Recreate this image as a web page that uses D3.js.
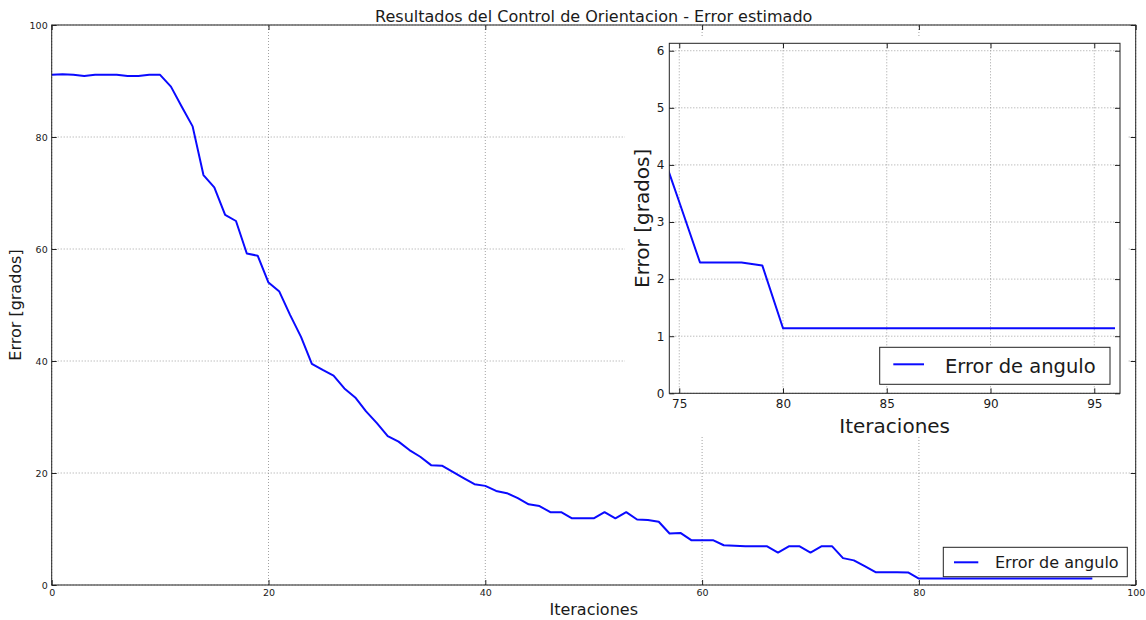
<!DOCTYPE html>
<html>
<head>
<meta charset="utf-8">
<script src="https://cdn.jsdelivr.net/npm/d3@7"></script>
<style>
  html, body { margin: 0; padding: 0; background: #fff; }
  svg text { font-family: "DejaVu Sans", sans-serif; }
</style>
</head>
<body>
<svg id="chart" width="1146" height="620"></svg>
<script>
// Orientation error (degrees) for each iteration; the array index is the iteration number.
const errorDeg = [
  91.1, 91.2, 91.1, 90.9, 91.1, 91.1, 91.1, 90.9, 90.9, 91.1,
  91.1, 89.0, 85.4, 81.9, 73.2, 71.0, 66.1, 65.0, 59.2, 58.8,
  54.0, 52.4, 48.2, 44.3, 39.5, 38.4, 37.4, 35.1, 33.5, 31.0,
  28.9, 26.6, 25.6, 24.1, 22.9, 21.4, 21.3, 20.2, 19.1, 18.0,
  17.7, 16.8, 16.4, 15.5, 14.4, 14.1, 13.0, 13.0, 11.9, 11.9,
  11.9, 13.0, 11.9, 13.0, 11.7, 11.6, 11.3, 9.2, 9.3, 8.0,
  8.0, 8.0, 7.1, 7.0, 6.9, 6.9, 6.9, 5.8, 6.9, 6.9,
  5.8, 6.9, 6.9, 4.8, 4.4, 3.35, 2.29, 2.29, 2.29, 2.24,
  1.14, 1.14, 1.14, 1.14, 1.14, 1.14, 1.14, 1.14, 1.14, 1.14,
  1.14, 1.14, 1.14, 1.14, 1.14, 1.14, 1.14
];

const titleText = "Resultados del Control de Orientacion - Error estimado";
const xLabel = "Iteraciones";
const yLabel = "Error [grados]";
const seriesName = "Error de angulo";

const mainXTicks = [0, 20, 40, 60, 80, 100];
const mainYTicks = [0, 20, 40, 60, 80, 100];
const mainXDomain = [0, 100];
const mainYDomain = [0, 100];

const insetXTicks = [75, 80, 85, 90, 95];
const insetYTicks = [0, 1, 2, 3, 4, 5, 6];
const insetXDomain = [74.52, 96.24];
const insetYDomain = [0, 6.13];

const points = errorDeg.map((v, i) => ({ it: i, err: v }));

const svg = d3.select("#chart");
const LINE_COLOR = "#0a0aff";
const TEXT_COLOR = "#1a1a1a";

function drawPanel(g, opts) {
  const { x, y, xTicks, yTicks, tickFont, tickLen, padX, padY, clipId } = opts;
  const [x0, x1] = x.range();
  const [y0, y1] = y.range();

  // dotted grid
  g.append("g").selectAll("line").data(xTicks).join("line")
    .attr("x1", d => x(d)).attr("x2", d => x(d))
    .attr("y1", y0).attr("y2", y1)
    .attr("stroke", "#8a8a8a").attr("stroke-width", 0.8)
    .attr("stroke-dasharray", "1,2");
  g.append("g").selectAll("line").data(yTicks).join("line")
    .attr("x1", x0).attr("x2", x1)
    .attr("y1", d => y(d)).attr("y2", d => y(d))
    .attr("stroke", "#8a8a8a").attr("stroke-width", 0.8)
    .attr("stroke-dasharray", "1,2");

  // data line, clipped to the plotting area
  g.append("clipPath").attr("id", clipId)
    .append("rect")
    .attr("x", x0).attr("y", y1)
    .attr("width", x1 - x0).attr("height", y0 - y1);

  const line = d3.line().x(d => x(d.it)).y(d => y(d.err));
  g.append("path")
    .datum(points)
    .attr("clip-path", `url(#${clipId})`)
    .attr("fill", "none")
    .attr("stroke", LINE_COLOR)
    .attr("stroke-width", 2)
    .attr("stroke-linejoin", "round")
    .attr("d", line);

  // axes with inward ticks on all four sides
  const styleAxis = sel => {
    sel.select(".domain").remove();
    sel.selectAll(".tick line").attr("stroke", "#222").attr("stroke-width", 1);
    sel.selectAll(".tick text")
      .attr("fill", TEXT_COLOR)
      .style("font-size", tickFont + "px")
      .style("font-family", '"DejaVu Sans", sans-serif');
  };

  g.append("g").attr("transform", `translate(0,${y0})`)
    .call(d3.axisBottom(x).tickValues(xTicks).tickFormat(d3.format("d"))
      .tickSizeInner(-tickLen).tickSizeOuter(0).tickPadding(padX))
    .call(styleAxis);
  g.append("g").attr("transform", `translate(0,${y1})`)
    .call(d3.axisTop(x).tickValues(xTicks).tickFormat("")
      .tickSizeInner(-tickLen).tickSizeOuter(0))
    .call(styleAxis);
  g.append("g").attr("transform", `translate(${x0},0)`)
    .call(d3.axisLeft(y).tickValues(yTicks).tickFormat(d3.format("d"))
      .tickSizeInner(-tickLen).tickSizeOuter(0).tickPadding(padY))
    .call(styleAxis);
  g.append("g").attr("transform", `translate(${x1},0)`)
    .call(d3.axisRight(y).tickValues(yTicks).tickFormat("")
      .tickSizeInner(-tickLen).tickSizeOuter(0))
    .call(styleAxis);

  // frame
  g.append("rect")
    .attr("x", x0).attr("y", y1)
    .attr("width", x1 - x0).attr("height", y0 - y1)
    .attr("fill", "none").attr("stroke", "#222").attr("stroke-width", 1);
}

function drawLegend(g, box, fontSize) {
  const lg = g.append("g");
  lg.append("rect")
    .attr("x", box.x).attr("y", box.y)
    .attr("width", box.w).attr("height", box.h)
    .attr("fill", "#fff").attr("stroke", "#222").attr("stroke-width", 1);
  lg.append("line")
    .attr("x1", box.lx0).attr("x2", box.lx1)
    .attr("y1", box.ly).attr("y2", box.ly)
    .attr("stroke", LINE_COLOR).attr("stroke-width", 2);
  lg.append("text")
    .attr("x", box.tx).attr("y", box.ty)
    .attr("fill", TEXT_COLOR)
    .style("font-size", fontSize + "px")
    .text(seriesName);
}

// ---------- main panel ----------
const mainX = d3.scaleLinear().domain(mainXDomain).range([51.7, 1135.7]);
const mainY = d3.scaleLinear().domain(mainYDomain).range([585, 25]);
const mainG = svg.append("g");

drawPanel(mainG, {
  x: mainX, y: mainY, xTicks: mainXTicks, yTicks: mainYTicks,
  tickFont: 9.5, tickLen: 5, padX: 4, padY: 4, clipId: "clip-main"
});

drawLegend(mainG, {
  x: 943.3, y: 547.3, w: 184, h: 29.4,
  lx0: 954, lx1: 978.3, ly: 562.3, tx: 995, ty: 567.5
}, 16);

svg.append("text")
  .attr("x", 593.7).attr("y", 22)
  .attr("text-anchor", "middle")
  .attr("fill", TEXT_COLOR)
  .style("font-size", "16px")
  .text(titleText);

svg.append("text")
  .attr("x", 593.7).attr("y", 615)
  .attr("text-anchor", "middle")
  .attr("fill", TEXT_COLOR)
  .style("font-size", "16px")
  .text(xLabel);

svg.append("text")
  .attr("transform", "translate(21,305) rotate(-90)")
  .attr("text-anchor", "middle")
  .attr("fill", TEXT_COLOR)
  .style("font-size", "16px")
  .text(yLabel);

// ---------- inset panel (zoom on the final iterations) ----------
const insetG = svg.append("g");
insetG.append("rect")
  .attr("x", 625).attr("y", 38)
  .attr("width", 503).attr("height", 399)
  .attr("fill", "#fff");

const insetX = d3.scaleLinear().domain(insetXDomain).range([669.3, 1120]);
const insetY = d3.scaleLinear().domain(insetYDomain).range([393.3, 43.3]);

drawPanel(insetG, {
  x: insetX, y: insetY, xTicks: insetXTicks, yTicks: insetYTicks,
  tickFont: 12, tickLen: 5, padX: 6, padY: 5, clipId: "clip-inset"
});

drawLegend(insetG, {
  x: 879.7, y: 347.3, w: 230.3, h: 37,
  lx0: 893.3, lx1: 924, ly: 364.3, tx: 945, ty: 372.5
}, 19.5);

insetG.append("text")
  .attr("x", 894.7).attr("y", 433)
  .attr("text-anchor", "middle")
  .attr("fill", TEXT_COLOR)
  .style("font-size", "20px")
  .text(xLabel);

insetG.append("text")
  .attr("transform", "translate(648.5,218.3) rotate(-90)")
  .attr("text-anchor", "middle")
  .attr("fill", TEXT_COLOR)
  .style("font-size", "20px")
  .text(yLabel);
</script>
</body>
</html>
